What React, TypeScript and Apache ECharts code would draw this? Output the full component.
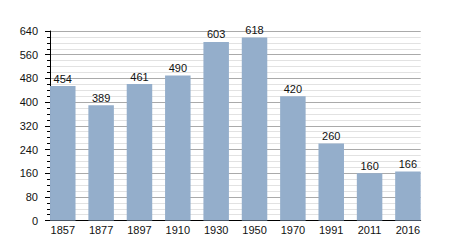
import React, { useEffect, useRef } from "react";
import * as echarts from "echarts";

const years = ["1857", "1877", "1897", "1910", "1930", "1950", "1970", "1991", "2011", "2016"];
const population = [454, 389, 461, 490, 603, 618, 420, 260, 160, 166];
const yTicks = [0, 80, 160, 240, 320, 400, 480, 560, 640];

export default function App() {
  const ref = useRef<HTMLDivElement>(null);
  useEffect(() => {
    if (!ref.current) return;
    const chart = echarts.init(ref.current, null, { renderer: "svg" });
    const font = "Liberation Sans, Arial, sans-serif";
    chart.setOption({
      animation: false,
      grid: { left: 50, right: 29.3, top: 31, bottom: 29.4, containLabel: false },
      xAxis: {
        type: "value",
        min: -0.333,
        max: 9.333,
        axisLine: { show: true, onZero: false, lineStyle: { color: "#000", width: 1 } },
        axisTick: { show: false },
        splitLine: { show: false },
        minorSplitLine: { show: false },
        axisLabel: {
          customValues: years.map((_, i) => i),
          formatter: (v: number) => years[Math.round(v)] ?? "",
          color: "#111",
          fontSize: 11,
          fontFamily: font,
          margin: 4,
        },
      },
      yAxis: {
        type: "value",
        min: yTicks[0],
        max: yTicks[yTicks.length - 1],
        interval: 80,
        axisLine: { show: true, onZero: false, lineStyle: { color: "#000", width: 1 } },
        axisTick: { show: true, length: 5, lineStyle: { color: "#000" } },
        minorTick: { show: true, splitNumber: 4, length: 3, lineStyle: { color: "#000" } },
        splitLine: { show: true, lineStyle: { color: "#aaaaaa", width: 1 } },
        minorSplitLine: { show: true, lineStyle: { color: "#e2e2e2", width: 1 } },
        axisLabel: { color: "#111", fontSize: 11, fontFamily: font, margin: 12 },
      },
      series: [
        {
          type: "bar",
          data: population.map((v, i) => [i, v]),
          barWidth: 25.5,
          itemStyle: { color: "#94aecb" },
          label: {
            show: true,
            position: "top",
            distance: 2,
            color: "#111",
            fontSize: 11,
            fontFamily: font,
            formatter: (p: any) => String(p.value[1]),
          },
        },
      ],
    });
    return () => chart.dispose();
  }, []);
  return <div ref={ref} style={{ width: 450, height: 250, margin: -8 }} />;
}
